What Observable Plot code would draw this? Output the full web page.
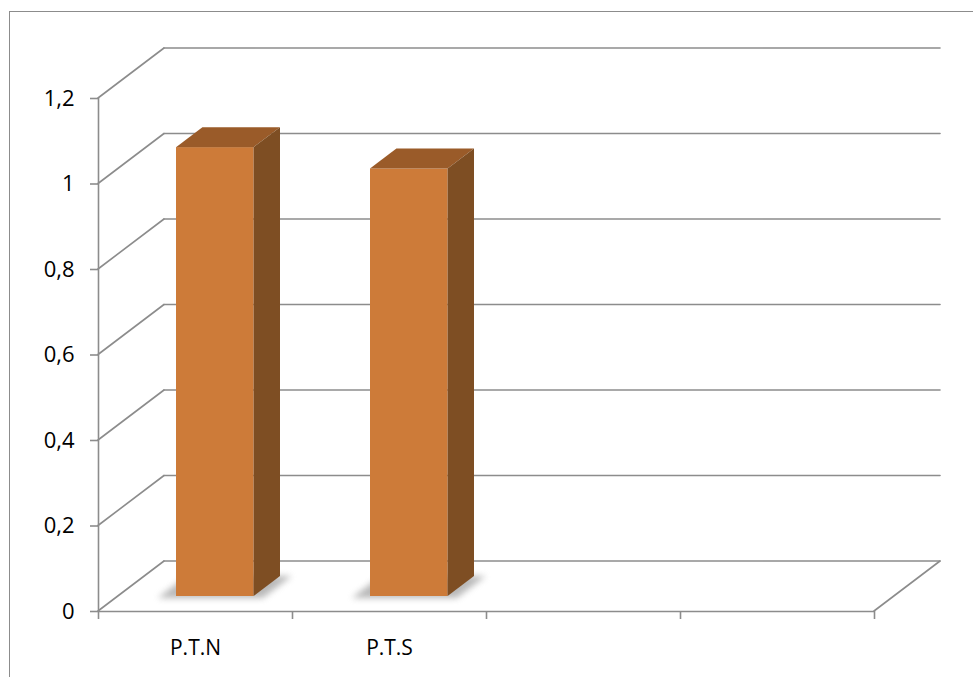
<!DOCTYPE html>
<html>
<head>
<meta charset="utf-8">
<script src="https://cdn.jsdelivr.net/npm/d3@7"></script>
<script src="https://cdn.jsdelivr.net/npm/@observablehq/plot@0.6"></script>
<style>
  html, body { margin: 0; padding: 0; background: #fff; overflow: hidden; }
  #frame { position: absolute; left: 9px; top: 11px; width: 1000px; height: 700px;
           border: 1.5px solid #8c8c8c; box-sizing: border-box; }
  #chart { position: absolute; left: 0; top: 0; }
</style>
</head>
<body>
<div id="frame"></div>
<div id="chart"></div>
<script>
// Category slots along the floor (the last two are empty)
const categories = ["P.T.N", "P.T.S", "", ""];
const values = [1.05, 1.0];
const yTicks = [0, 0.2, 0.4, 0.6, 0.8, 1, 1.2];

const slots = categories.length;
const xTicks = d3.range(slots + 1);

// Oblique depth of the 3D box, in pixels, from front edge to back wall
const depthX = 66, depthY = -50;
// Bar footprint: fractions of a slot (x) and of the floor depth (z)
const barX0 = 0.3, barX1 = 0.7, barZ0 = 0.3, barZ1 = 0.7;

const gridColor = "#8c8c8c";
const faceFront = "#cd7b39", faceTop = "#9a5b29", faceSide = "#7e4e23";

const bars = values.map((v, i) => ({category: categories[i], i, value: v}));

// A mark drawn in oblique 3D, projected through the plot's x and y scales
function oblique(draw) {
  return (index, scales) => {
    const P = (x, y, z) => [scales.x(x) + z * depthX, scales.y(y) + z * depthY];
    const g = d3.create("svg:g");
    draw(g, P);
    return g.node();
  };
}

const poly = (g, pts, fill) =>
  g.append("polygon").attr("points", pts.map(p => p.join(",")).join(" ")).attr("fill", fill);

// Back wall gridlines and the left-wall diagonals
const walls = oblique((g, P) => {
  const line = (a, b) => g.append("line")
    .attr("x1", a[0]).attr("y1", a[1]).attr("x2", b[0]).attr("y2", b[1])
    .attr("stroke", gridColor).attr("stroke-width", 1.6).attr("stroke-linecap", "round");
  for (const t of yTicks) {
    line(P(0, t, 0), P(0, t, 1));
    line(P(0, t, 1), P(slots, t, 1));
  }
  line(P(slots, 0, 0), P(slots, 0, 1));
});

// Soft shadows under the bars
const shadows = oblique((g, P) => {
  const defs = g.append("defs");
  defs.append("filter").attr("id", "barShadow")
    .attr("x", "-20%").attr("y", "-50%").attr("width", "140%").attr("height", "200%")
    .append("feGaussianBlur").attr("stdDeviation", 3);
  for (const b of bars) {
    const x0 = b.i + barX0 - 0.08, x1 = b.i + barX1 + 0.06;
    poly(g, [P(x0, 0, barZ0 - 0.04), P(x1, 0, barZ0 - 0.04), P(x1, 0, barZ1), P(x0, 0, barZ1)], "#8a8a8a")
      .attr("opacity", 0.6).attr("filter", "url(#barShadow)");
  }
});

// Top and side faces of each bar
const barFaces = oblique((g, P) => {
  for (const b of bars) {
    const x0 = b.i + barX0, x1 = b.i + barX1, v = b.value;
    poly(g, [P(x0, v, barZ0), P(x1, v, barZ0), P(x1, v, barZ1), P(x0, v, barZ1)], faceTop);
    poly(g, [P(x1, 0, barZ0), P(x1, v, barZ0), P(x1, v, barZ1), P(x1, 0, barZ1)], faceSide);
  }
});

const chart = Plot.plot({
  width: 973,
  height: 677,
  marginLeft: 98,
  marginRight: 99,
  marginTop: 98,
  marginBottom: 66,
  style: {fontFamily: "Open Sans, sans-serif", fontSize: "21px", color: "#000", background: "transparent"},
  x: {type: "linear", domain: [0, slots], axis: null, label: null},
  y: {type: "linear", domain: [0, 1.2], axis: null, label: null},
  marks: [
    walls,
    shadows,
    // front faces, pushed back to the bar's depth
    Plot.rect(bars, {
      x1: d => d.i + barX0, x2: d => d.i + barX1, y1: 0, y2: "value",
      dx: barZ0 * depthX, dy: barZ0 * depthY, fill: faceFront
    }),
    barFaces,
    Plot.ruleY([0], {x1: 0, x2: slots, stroke: gridColor, strokeWidth: 1.6}),
    Plot.ruleX([0], {y1: 0, y2: 1.2, stroke: gridColor, strokeWidth: 1.6}),
    Plot.axisY(yTicks, {
      tickSize: 8, tickPadding: 16, stroke: gridColor, strokeWidth: 1.6, label: null,
      tickFormat: d => String(d).replace(".", ","), fontSize: 22
    }),
    Plot.axisX(xTicks, {tickSize: 8, stroke: gridColor, strokeWidth: 1.6, label: null, tickFormat: () => ""}),
    Plot.text(categories, {
      x: (d, i) => i + 0.5, y: 0, dy: 37, text: d => d,
      fontSize: 21, fill: "#000"
    })
  ]
});

document.getElementById("chart").append(chart);
</script>
</body>
</html>
